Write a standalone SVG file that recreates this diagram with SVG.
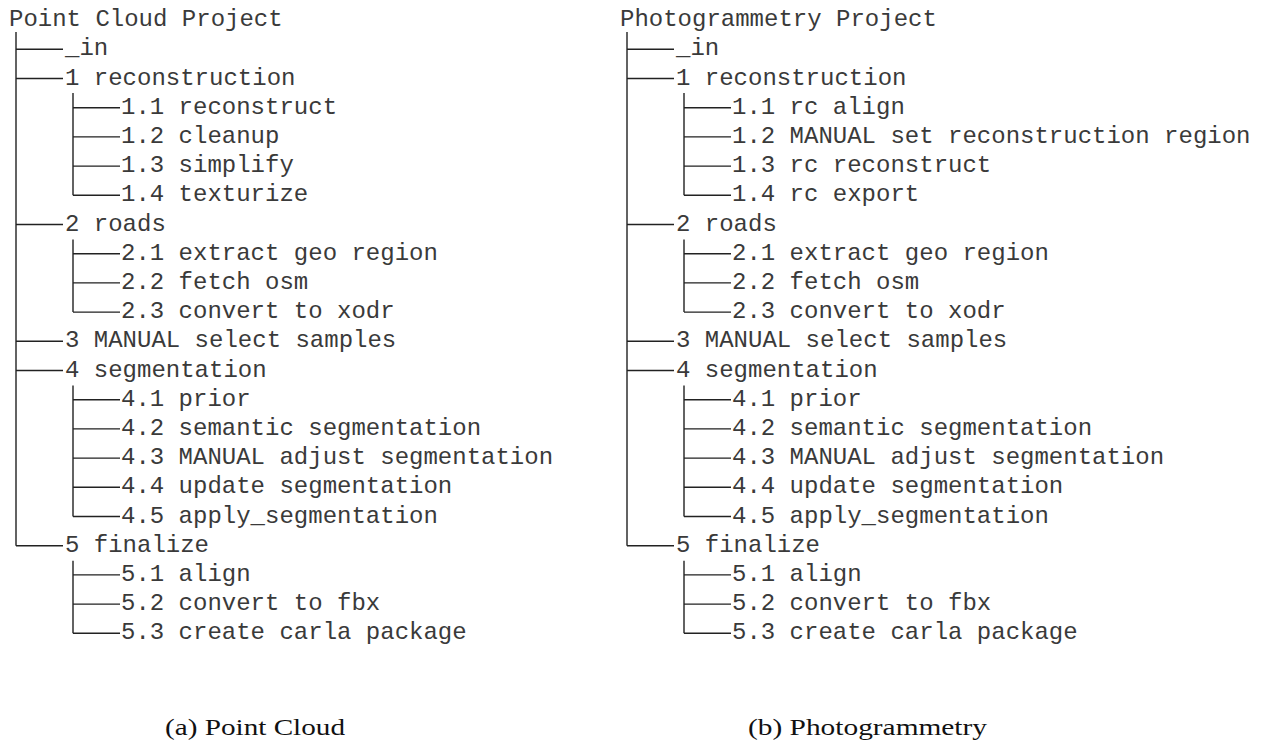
<svg xmlns="http://www.w3.org/2000/svg" width="1267" height="744" viewBox="0 0 1267 744">
  <style>
    .t { font-family: "Liberation Mono", "DejaVu Sans Mono", monospace; font-size: 24px; fill: #3a3a3a; }
    .cap { font-family: "Liberation Serif", "DejaVu Serif", serif; font-size: 24px; fill: #111; }
    .ln { stroke: #222; stroke-width: 1.4; fill: none; }
  </style>
  <rect width="1267" height="744" fill="#fff"/>

  <!-- Tree (a): rows are 29.2px apart, connector at row line, text baseline 6px below -->
  <g id="tree-a">
    <g id="a-connectors">
      <path class="ln" d="M16 32V545.7 M16 49.3H63 M16 78.5H63 M16 224.5H63 M16 341.3H63 M16 370.5H63 M16 545.7H63"/>
      <path class="ln" d="M73 93V195.3 M73 107.7H120 M73 136.9H120 M73 166.1H120 M73 195.3H120"/>
      <path class="ln" d="M73 239.5V312.1 M73 253.7H120 M73 282.9H120 M73 312.1H120"/>
      <path class="ln" d="M73 385.5V516.5 M73 399.7H120 M73 428.9H120 M73 458.1H120 M73 487.3H120 M73 516.5H120"/>
      <path class="ln" d="M73 560.7V633.3 M73 574.9H120 M73 604.1H120 M73 633.3H120"/>
    </g>
    <g id="a-root"><text class="t" x="9" y="26.1">Point Cloud Project</text></g>
    <g id="a-in"><text class="t" x="65" y="55.3">_in</text></g>
    <g id="a-1"><text class="t" x="65" y="84.5">1 reconstruction</text></g>
    <g id="a-1-1"><text class="t" x="121" y="113.7">1.1 reconstruct</text></g>
    <g id="a-1-2"><text class="t" x="121" y="142.9">1.2 cleanup</text></g>
    <g id="a-1-3"><text class="t" x="121" y="172.1">1.3 simplify</text></g>
    <g id="a-1-4"><text class="t" x="121" y="201.3">1.4 texturize</text></g>
    <g id="a-2"><text class="t" x="65" y="230.5">2 roads</text></g>
    <g id="a-2-1"><text class="t" x="121" y="259.7">2.1 extract geo region</text></g>
    <g id="a-2-2"><text class="t" x="121" y="288.9">2.2 fetch osm</text></g>
    <g id="a-2-3"><text class="t" x="121" y="318.1">2.3 convert to xodr</text></g>
    <g id="a-3"><text class="t" x="65" y="347.3">3 MANUAL select samples</text></g>
    <g id="a-4"><text class="t" x="65" y="376.5">4 segmentation</text></g>
    <g id="a-4-1"><text class="t" x="121" y="405.7">4.1 prior</text></g>
    <g id="a-4-2"><text class="t" x="121" y="434.9">4.2 semantic segmentation</text></g>
    <g id="a-4-3"><text class="t" x="121" y="464.1">4.3 MANUAL adjust segmentation</text></g>
    <g id="a-4-4"><text class="t" x="121" y="493.3">4.4 update segmentation</text></g>
    <g id="a-4-5"><text class="t" x="121" y="522.5">4.5 apply_segmentation</text></g>
    <g id="a-5"><text class="t" x="65" y="551.7">5 finalize</text></g>
    <g id="a-5-1"><text class="t" x="121" y="580.9">5.1 align</text></g>
    <g id="a-5-2"><text class="t" x="121" y="610.1">5.2 convert to fbx</text></g>
    <g id="a-5-3"><text class="t" x="121" y="639.3">5.3 create carla package</text></g>
  </g>

  <!-- Tree (b): same layout shifted 611px right -->
  <g id="tree-b" transform="translate(611 0)">
    <g id="b-connectors">
      <path class="ln" d="M16 32V545.7 M16 49.3H63 M16 78.5H63 M16 224.5H63 M16 341.3H63 M16 370.5H63 M16 545.7H63"/>
      <path class="ln" d="M73 93V195.3 M73 107.7H120 M73 136.9H120 M73 166.1H120 M73 195.3H120"/>
      <path class="ln" d="M73 239.5V312.1 M73 253.7H120 M73 282.9H120 M73 312.1H120"/>
      <path class="ln" d="M73 385.5V516.5 M73 399.7H120 M73 428.9H120 M73 458.1H120 M73 487.3H120 M73 516.5H120"/>
      <path class="ln" d="M73 560.7V633.3 M73 574.9H120 M73 604.1H120 M73 633.3H120"/>
    </g>
    <g id="b-root"><text class="t" x="9" y="26.1">Photogrammetry Project</text></g>
    <g id="b-in"><text class="t" x="65" y="55.3">_in</text></g>
    <g id="b-1"><text class="t" x="65" y="84.5">1 reconstruction</text></g>
    <g id="b-1-1"><text class="t" x="121" y="113.7">1.1 rc align</text></g>
    <g id="b-1-2"><text class="t" x="121" y="142.9">1.2 MANUAL set reconstruction region</text></g>
    <g id="b-1-3"><text class="t" x="121" y="172.1">1.3 rc reconstruct</text></g>
    <g id="b-1-4"><text class="t" x="121" y="201.3">1.4 rc export</text></g>
    <g id="b-2"><text class="t" x="65" y="230.5">2 roads</text></g>
    <g id="b-2-1"><text class="t" x="121" y="259.7">2.1 extract geo region</text></g>
    <g id="b-2-2"><text class="t" x="121" y="288.9">2.2 fetch osm</text></g>
    <g id="b-2-3"><text class="t" x="121" y="318.1">2.3 convert to xodr</text></g>
    <g id="b-3"><text class="t" x="65" y="347.3">3 MANUAL select samples</text></g>
    <g id="b-4"><text class="t" x="65" y="376.5">4 segmentation</text></g>
    <g id="b-4-1"><text class="t" x="121" y="405.7">4.1 prior</text></g>
    <g id="b-4-2"><text class="t" x="121" y="434.9">4.2 semantic segmentation</text></g>
    <g id="b-4-3"><text class="t" x="121" y="464.1">4.3 MANUAL adjust segmentation</text></g>
    <g id="b-4-4"><text class="t" x="121" y="493.3">4.4 update segmentation</text></g>
    <g id="b-4-5"><text class="t" x="121" y="522.5">4.5 apply_segmentation</text></g>
    <g id="b-5"><text class="t" x="65" y="551.7">5 finalize</text></g>
    <g id="b-5-1"><text class="t" x="121" y="580.9">5.1 align</text></g>
    <g id="b-5-2"><text class="t" x="121" y="610.1">5.2 convert to fbx</text></g>
    <g id="b-5-3"><text class="t" x="121" y="639.3">5.3 create carla package</text></g>
  </g>

  <!-- Sub-figure captions -->
  <g id="captions">
    <text class="cap" x="165" y="735" textLength="180" lengthAdjust="spacingAndGlyphs">(a) Point Cloud</text>
    <text class="cap" x="748" y="735" textLength="239" lengthAdjust="spacingAndGlyphs">(b) Photogrammetry</text>
  </g>
</svg>
